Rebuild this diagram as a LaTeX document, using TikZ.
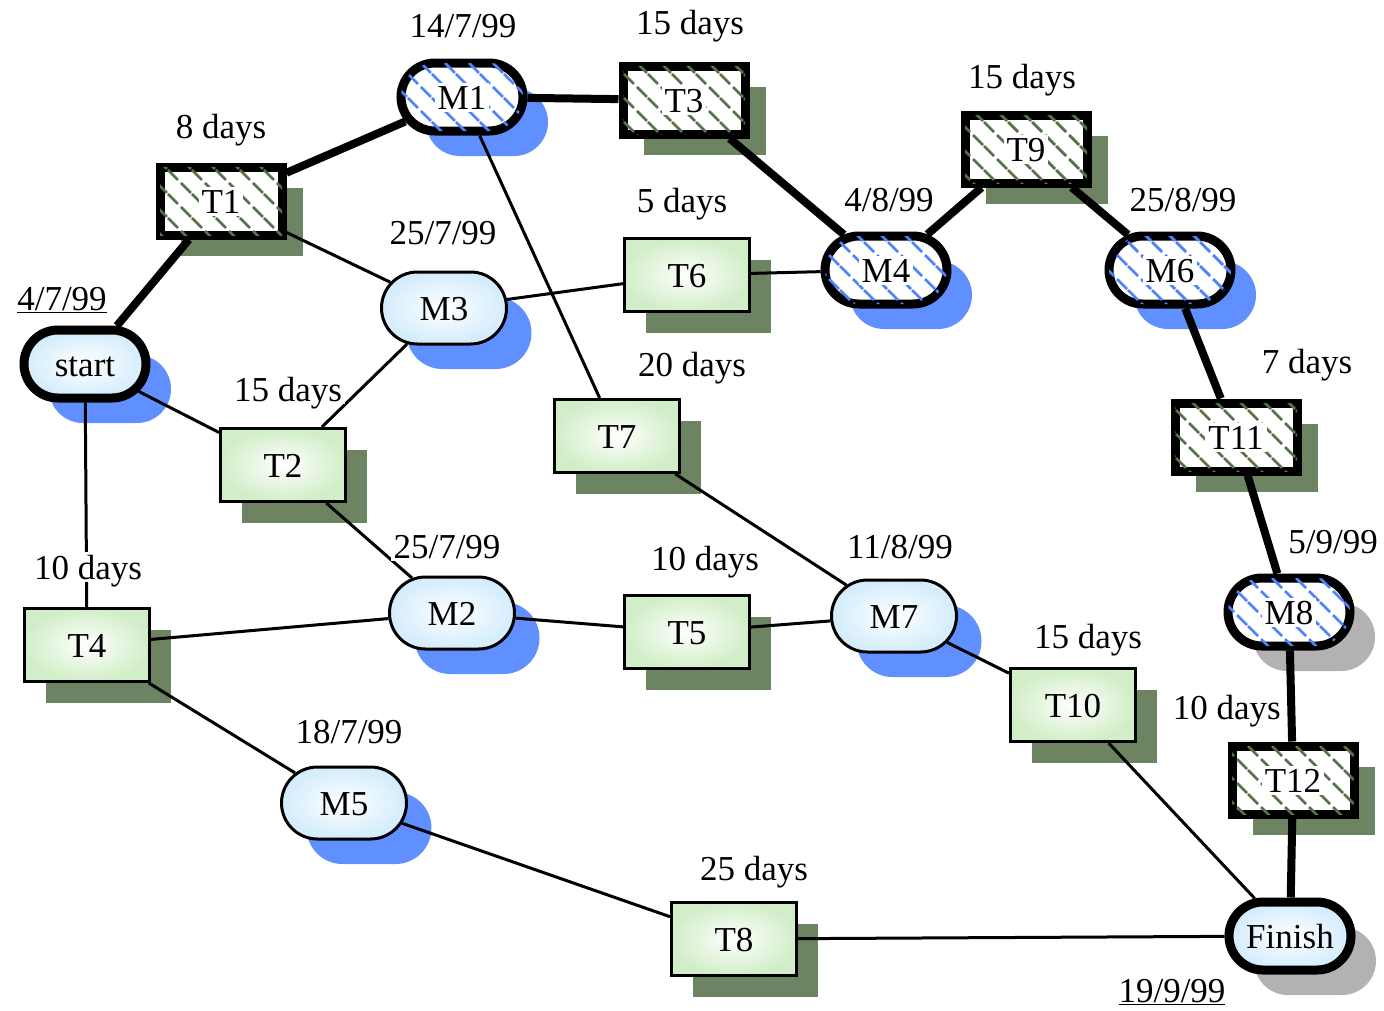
\documentclass[tikz,border=0pt]{standalone}
\usepackage{fontspec}
\setmainfont{Liberation Serif}
\usetikzlibrary{shapes.misc,shadows,patterns}
\definecolor{msshadow}{RGB}{96,144,255}
\definecolor{taskshadow}{RGB}{108,132,98}
\definecolor{greyshadow}{RGB}{178,178,178}
\definecolor{msfill}{RGB}{212,236,252}
\definecolor{taskfill}{RGB}{210,238,200}
\definecolor{hatchblue}{RGB}{80,130,255}
\definecolor{hatchgreen}{RGB}{85,115,75}
\pgfdeclarepatternformonly{dashhatch}{\pgfqpoint{-1pt}{-1pt}}{\pgfqpoint{25pt}{25pt}}{\pgfqpoint{24pt}{24pt}}{%
	\pgfsetlinewidth{2.8pt}
	\pgfpathmoveto{\pgfqpoint{0pt}{24pt}}\pgfpathlineto{\pgfqpoint{10pt}{14pt}}
	\pgfpathmoveto{\pgfqpoint{13pt}{11pt}}\pgfpathlineto{\pgfqpoint{23pt}{1pt}}
	\pgfusepath{stroke}}
\newcommand{\knock}[1]{{\setlength{\fboxsep}{3pt}\colorbox{white}{#1}}}

\begin{document}
\begin{tikzpicture}[x=1pt,y=-1pt,
	every node/.style={font=\fontsize{35}{42}\selectfont,inner sep=0pt,text height=24pt,text depth=0pt},
	crit/.style={line width=9pt,minimum width=122pt,minimum height=68pt},
	hatched/.style={fill=white,postaction={pattern=dashhatch,pattern color=#1}},
	tbase/.style={draw,rectangle,line width=3pt,minimum width=125pt,minimum height=73pt,
		drop shadow={shadow xshift=21pt,shadow yshift=-21pt,fill=taskshadow,opacity=1}},
	task/.style={tbase,shading=radial,inner color=white,outer color=taskfill},
	crittask/.style={tbase,crit,hatched=hatchgreen},
	mbase/.style={draw,rounded rectangle,line width=3pt,minimum width=125pt,minimum height=72pt},
	blueshd/.style={drop shadow={shadow xshift=25pt,shadow yshift=-25pt,fill=msshadow,opacity=1}},
	greyshd/.style={drop shadow={shadow xshift=25pt,shadow yshift=-25pt,fill=greyshadow,opacity=1}},
	ms/.style={mbase,blueshd,shading=radial,inner color=white,outer color=msfill},
	critms/.style={mbase,crit,blueshd,hatched=hatchblue},
	lbl/.style={fill=white,inner sep=3pt},
	critline/.style={line width=8pt},
	thinline/.style={line width=3pt}]
\useasboundingbox (0,0) rectangle (1384,1010);

\node[ms,crit] (start) at (85,364) {start};
\node[critms] (m1) at (462,97) {\knock{M1}};
\node[ms] (m3) at (444,308) {M3};
\node[critms] (m4) at (886,270) {\knock{M4}};
\node[critms] (m6) at (1170,270) {\knock{M6}};
\node[ms] (m2) at (452,613) {M2};
\node[ms] (m7) at (894,616) {M7};
\node[ms] (m5) at (344,803) {M5};
\node[mbase,crit,greyshd,hatched=hatchblue] (m8) at (1289,612) {\knock{M8}};
\node[mbase,crit,greyshd,shading=radial,inner color=white,outer color=msfill] (finish) at (1290,936) {Finish};

\node[crittask] (t1) at (221,201) {\knock{T1}};
\node[crittask] (t3) at (684,100) {\knock{T3}};
\node[crittask] (t9) at (1026,149) {\knock{T9}};
\node[crittask] (t11) at (1236,437) {\knock{T11}};
\node[crittask] (t12) at (1293,780) {\knock{T12}};
\node[task] (t6) at (687,275) {T6};
\node[task] (t2) at (283,465) {T2};
\node[task] (t7) at (617,436) {T7};
\node[task] (t4) at (87,645) {T4};
\node[task] (t5) at (687,632) {T5};
\node[task] (t10) at (1073,705) {T10};
\node[task] (t8) at (734,939) {T8};

\draw[critline] (start) -- (t1) -- (m1) -- (t3) -- (m4) -- (t9) -- (m6) -- (t11) -- (m8) -- (t12) -- (finish);
\draw[thinline] (t1) -- (m3) (m3) -- (t6) (t6) -- (m4) (m1) -- (t7);
\draw[thinline] (start) -- (t2) (t2) -- (m3) (start) -- (t4) (t2) -- (m2);
\draw[thinline] (t4) -- (m2) (m2) -- (t5) (t5) -- (m7) (t7) -- (m7);
\draw[thinline] (m7) -- (t10) (t10) -- (finish) (t4) -- (m5) (m5) -- (t8) (t8) -- (finish);

\node[lbl] (d1) at (221,126) {8 days};
\node[lbl] (dm1) at (463,25) {14/7/99};
\node[lbl] (d3) at (690,22) {15 days};
\node[lbl] (d9) at (1022,76) {15 days};
\node[lbl] (dm6) at (1183,199) {25/8/99};
\node[lbl] (dm4) at (889,199) {4/8/99};
\node[lbl] (d6) at (682,200) {5 days};
\node[lbl] (dm3) at (443,232) {25/7/99};
\node[lbl] (dstart) at (62,298) {\underline{4/7/99}};
\node[lbl] (d2) at (288,389) {15 days};
\node[lbl] (d7) at (692,364) {20 days};
\node[lbl] (d11) at (1307,361) {7 days};
\node[lbl] (d4) at (88,567) {10 days};
\node[lbl] (dm2) at (447,546) {25/7/99};
\node[lbl] (d5) at (705,558) {10 days};
\node[lbl] (dm7) at (900,546) {11/8/99};
\node[lbl] (dm8) at (1333,541) {5/9/99};
\node[lbl] (d10) at (1088,636) {15 days};
\node[lbl] (dm5) at (349,731) {18/7/99};
\node[lbl,anchor=east] (d12) at (1284,707) {10 days};
\node[lbl] (d8) at (754,868) {25 days};
\node[lbl] (dfinish) at (1172,990) {\underline{19/9/99}};
\end{tikzpicture}
\end{document}
